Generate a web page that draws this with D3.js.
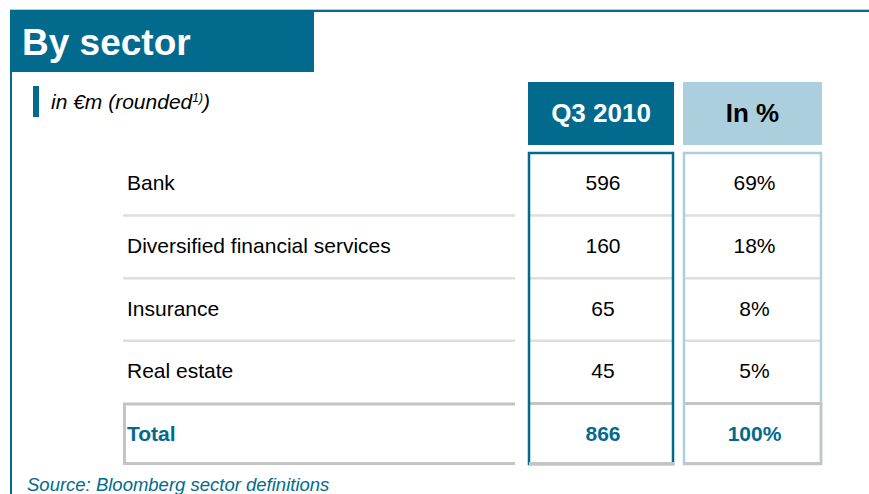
<!DOCTYPE html>
<html>
<head>
<meta charset="utf-8">
<script src="https://cdn.jsdelivr.net/npm/d3@7"></script>
<style>
  html, body { margin: 0; padding: 0; background: #fff; }
  svg { display: block; font-family: "Liberation Sans", Arial, sans-serif; }
</style>
</head>
<body>
<svg id="chart" width="869" height="494"></svg>
<script>
// ---- data ----
const titleText = "By sector";
const unitText = "in €m (rounded";
const unitSup = "1)";
const sectors = ["Bank", "Diversified financial services", "Insurance", "Real estate"];
const values = [596, 160, 65, 45];
const shares = ["69%", "18%", "8%", "5%"];
const totalLabel = "Total";
const totalValue = 866;
const totalShare = "100%";
const columnHeaders = ["Q3 2010", "In %"];
const sourceText = "Source: Bloomberg sector definitions";

// ---- styling ----
const DARK = "#016a8d";
const LIGHT = "#abcfdc";
const GRAY = "#c4c4c4";
const SEP = "#dedede";

const svg = d3.select("#chart");

const rows = sectors.map((s, i) => ({ label: s, value: values[i], share: shares[i], total: false }));
rows.push({ label: totalLabel, value: totalValue, share: totalShare, total: true });

const y = d3.scaleBand().domain(rows.map(d => d.label)).range([152, 465]).paddingInner(0);
const cols = [
  { key: "value", header: columnHeaders[0], x0: 528, x1: 674, fill: DARK, text: "#fff", border: DARK },
  { key: "share", header: columnHeaders[1], x0: 683, x1: 822, fill: LIGHT, text: "#000", border: LIGHT }
];
const labelX0 = 123, labelX1 = 515;

// ---- page frame ----
svg.append("line").attr("x1", 10).attr("x2", 869).attr("y1", 9.5).attr("y2", 9.5)
  .attr("stroke", "#c8c8c8").attr("stroke-width", 1);
svg.append("line").attr("x1", 10).attr("x2", 869).attr("y1", 11).attr("y2", 11)
  .attr("stroke", DARK).attr("stroke-width", 2);
svg.append("line").attr("x1", 11).attr("x2", 11).attr("y1", 70).attr("y2", 494)
  .attr("stroke", DARK).attr("stroke-width", 2);
svg.append("rect").attr("x", 10).attr("y", 10).attr("width", 304).attr("height", 62).attr("fill", DARK);
svg.append("text").attr("x", 22).attr("y", 55).attr("fill", "#fff")
  .attr("font-size", 37).attr("font-weight", "bold").text(titleText);

// subtitle
svg.append("rect").attr("x", 33).attr("y", 86).attr("width", 6).attr("height", 31).attr("fill", DARK);
const sub = svg.append("text").attr("x", 51).attr("y", 109).attr("font-size", 21)
  .attr("font-style", "italic").attr("fill", "#000");
sub.append("tspan").text(unitText);
sub.append("tspan").attr("font-size", 12).attr("dy", -7).text(unitSup);
sub.append("tspan").attr("dy", 7).text(")");

// ---- column headers ----
cols.forEach(c => {
  svg.append("rect").attr("x", c.x0).attr("y", 82).attr("width", c.x1 - c.x0).attr("height", 63).attr("fill", c.fill);
  svg.append("text").attr("x", (c.x0 + c.x1) / 2).attr("y", 122).attr("text-anchor", "middle")
    .attr("font-size", 26).attr("font-weight", "bold").attr("fill", c.text).text(c.header);
});

// ---- label column separators ----
const band = y.bandwidth();
rows.slice(1).forEach(r => {
  const yy = y(r.label) + 1;
  if (!r.total) {
    svg.append("line").attr("x1", labelX0).attr("x2", labelX1).attr("y1", yy).attr("y2", yy)
      .attr("stroke", SEP).attr("stroke-width", 2.5);
  }
});
// total row box in label column (open on the right)
const ty = y(totalLabel);
svg.append("path")
  .attr("d", `M${labelX1},${ty + 1.5} H${labelX0 + 1.5} V${ty + band - 1.5} H${labelX1}`)
  .attr("fill", "none").attr("stroke", GRAY).attr("stroke-width", 3);

// ---- value columns ----
cols.forEach(c => {
  rows.slice(1).forEach(r => {
    const yy = y(r.label) + 1;
    svg.append("line").attr("x1", c.x0 + 1).attr("x2", c.x1 - 1).attr("y1", yy).attr("y2", yy)
      .attr("stroke", r.total ? GRAY : SEP).attr("stroke-width", r.total ? 3 : 2.5);
  });
  svg.append("rect").attr("x", c.x0 + 1).attr("y", 153).attr("width", c.x1 - c.x0 - 2).attr("height", 311)
    .attr("fill", "none").attr("stroke", c.border).attr("stroke-width", 2.5);
  svg.append("line").attr("x1", c.x0 + 1).attr("x2", c.x1).attr("y1", 463.5).attr("y2", 463.5)
    .attr("stroke", GRAY).attr("stroke-width", 3);
  if (c.key === "share") {
    svg.append("line").attr("x1", c.x1 - 1).attr("x2", c.x1 - 1).attr("y1", ty).attr("y2", 465)
      .attr("stroke", GRAY).attr("stroke-width", 2.5);
  }
});

// ---- texts ----
const rowG = svg.selectAll("g.row").data(rows).join("g").attr("class", "row")
  .attr("transform", d => `translate(0,${y(d.label) + band / 2 + 7})`);
rowG.append("text").attr("x", 127).attr("font-size", 21)
  .attr("font-weight", d => d.total ? "bold" : "normal")
  .attr("fill", d => d.total ? DARK : "#000").text(d => d.label);
cols.forEach(c => {
  rowG.append("text").attr("x", (c.x0 + c.x1) / 2 + 2).attr("text-anchor", "middle").attr("font-size", 21)
    .attr("font-weight", d => d.total ? "bold" : "normal")
    .attr("fill", d => d.total ? DARK : "#000").text(d => d[c.key]);
});

// ---- source ----
svg.append("text").attr("x", 27).attr("y", 491).attr("font-size", 18.5).attr("font-style", "italic")
  .attr("fill", DARK).text(sourceText);
</script>
</body>
</html>
